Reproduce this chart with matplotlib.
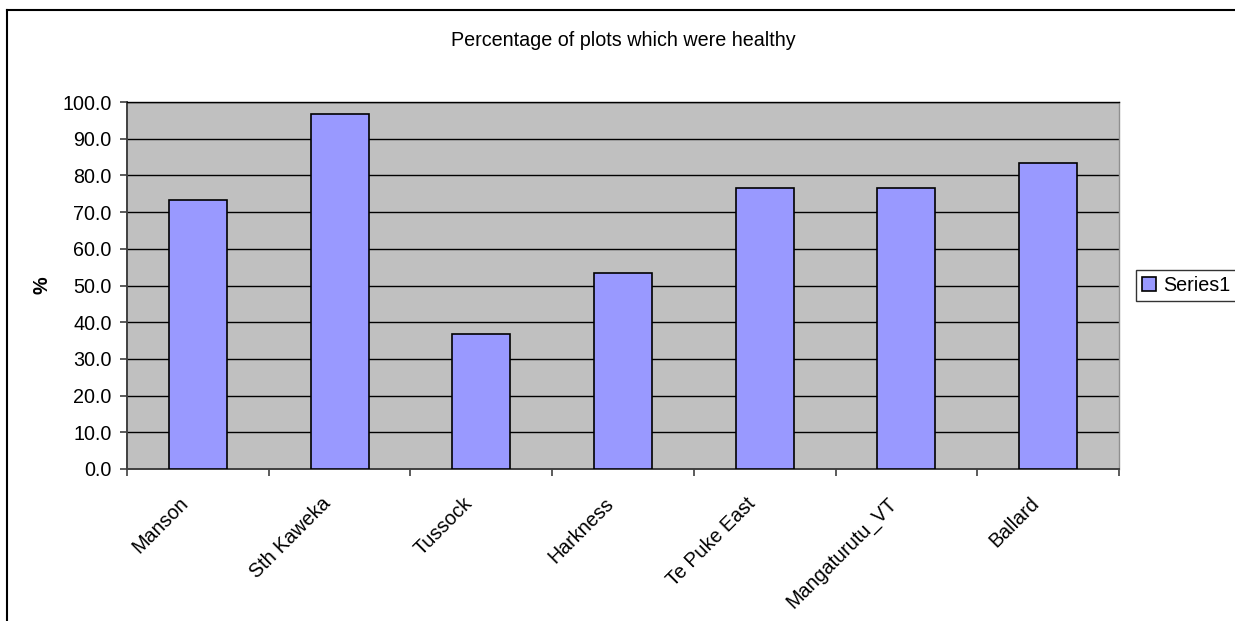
import matplotlib.pyplot as plt
from matplotlib.lines import Line2D
from matplotlib.ticker import FixedLocator
from matplotlib.transforms import ScaledTranslation

sites = ['Manson', 'Sth Kaweka', 'Tussock', 'Harkness', 'Te Puke East', 'Mangaturutu_VT', 'Ballard']
healthy_pct = [73.3, 96.7, 36.7, 53.3, 76.7, 76.7, 83.3]
y_ticks = [0, 10, 20, 30, 40, 50, 60, 70, 80, 90, 100]

plt.rcParams['font.family'] = ['Liberation Sans', 'DejaVu Sans']
fs = 14.2

fig = plt.figure(figsize=(12.35, 6.21), dpi=100)
ax = fig.add_axes([127 / 1235, 1 - 469 / 621, (1119 - 127) / 1235, (469 - 102) / 621])
ax.set_facecolor('#C0C0C0')

x = list(range(len(sites)))
ax.bar(x, healthy_pct, width=0.41, color='#9999FF', edgecolor='black', linewidth=1.2,
       label='Series1', zorder=3)

ax.set_xlim(-0.5, len(sites) - 0.5)
ax.set_ylim(0, 100)
ax.set_yticks(y_ticks)
ax.set_yticklabels([f'{v:.1f}' for v in y_ticks], fontsize=fs)
ax.yaxis.grid(True, color='black', linewidth=1.0, zorder=1)
ax.set_axisbelow(True)

ax.set_xticks(x)
ax.set_xticklabels(sites, rotation=45, ha='right', rotation_mode='anchor', fontsize=fs)
ax.tick_params(axis='x', which='major', length=0, pad=18)
shift = ScaledTranslation(-19 / 100, 0, fig.dpi_scale_trans)
for lbl in ax.get_xticklabels():
    lbl.set_transform(lbl.get_transform() + shift)
ax.xaxis.set_minor_locator(FixedLocator([i - 0.5 for i in range(len(sites) + 1)]))
ax.tick_params(axis='x', which='minor', length=5, color='#404040', width=1.2)
ax.tick_params(axis='y', length=5, color='#404040', width=1.2, pad=6)

ax.spines['right'].set_color('#909090')
ax.spines['right'].set_linewidth(1.0)
ax.spines['top'].set_color('black')
ax.spines['top'].set_linewidth(1.0)
for side in ['left', 'bottom']:
    ax.spines[side].set_color('#404040')
    ax.spines[side].set_linewidth(1.4)

ax.set_ylabel('%', fontsize=fs, fontweight='bold', labelpad=8)
fig.text(623 / 1235, 1 - 40 / 621, 'Percentage of plots which were healthy',
         ha='center', va='center', fontsize=fs)

leg = ax.legend(loc='center left', bbox_to_anchor=(1.017, 0.501), fontsize=fs,
                frameon=True, fancybox=False, edgecolor='black', handlelength=0.7,
                handleheight=0.7, handletextpad=0.4, borderpad=0.3, borderaxespad=0)
leg.get_frame().set_linewidth(1.0)

# chart area border, top and left edges
fig.add_artist(Line2D([7 / 1235, 1], [1 - 10 / 621, 1 - 10 / 621], color='black', linewidth=1.5))
fig.add_artist(Line2D([7 / 1235, 7 / 1235], [0, 1 - 10 / 621], color='black', linewidth=1.5))

fig.savefig('out.png', dpi=100)
